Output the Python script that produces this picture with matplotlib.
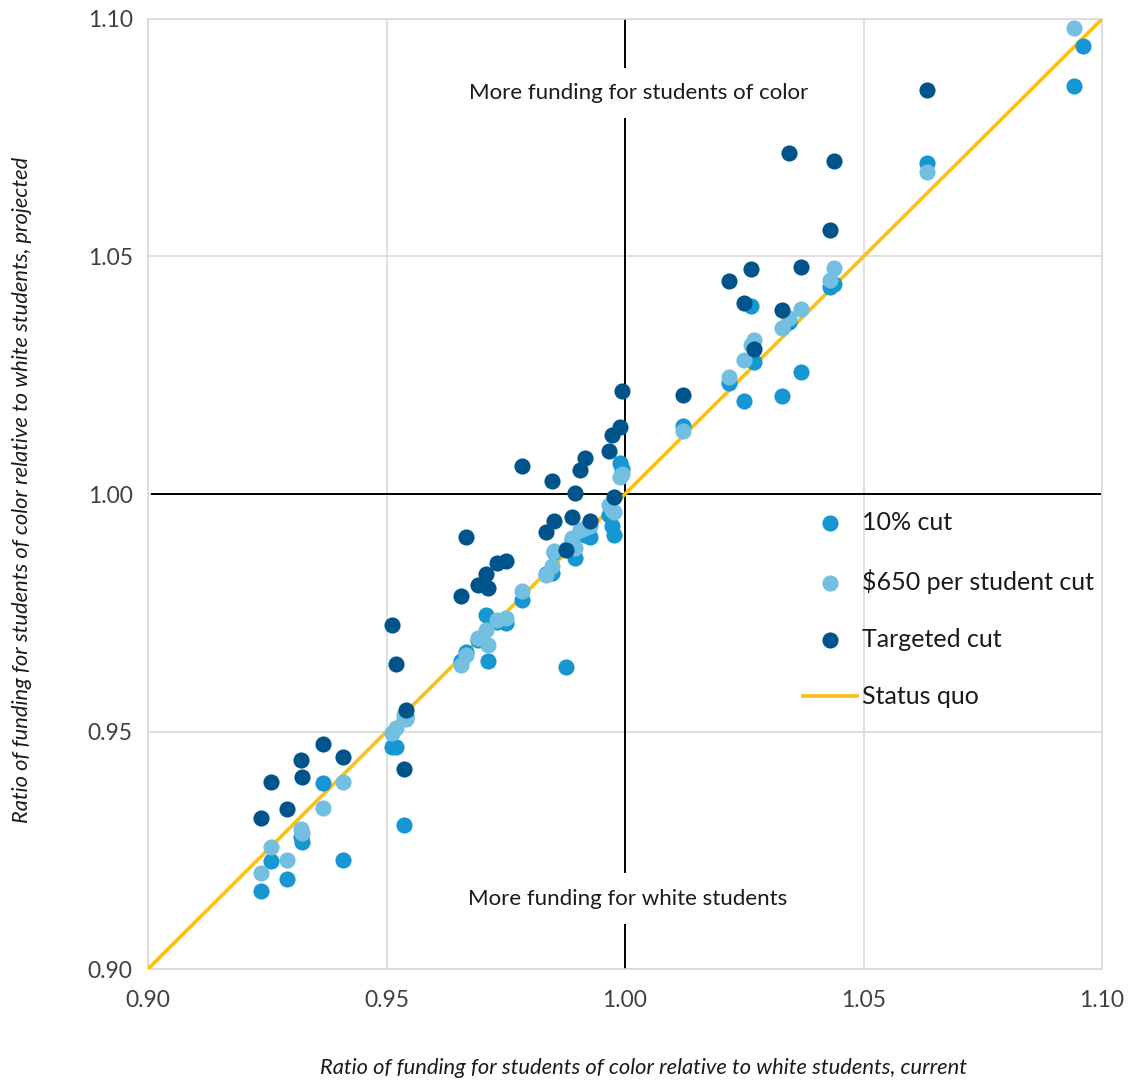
import numpy as np
import matplotlib
matplotlib.use('Agg')
import matplotlib.pyplot as plt

plt.rcParams['font.family'] = ['Lato', 'DejaVu Sans']

# current ratio (x) for each district, and projected ratio under each scenario
current = [0.9237, 0.9258, 0.9291, 0.9321, 0.9323, 0.9367, 0.9409,
           0.9512, 0.9520, 0.9537, 0.9541, 0.9656, 0.9667,
           0.9692, 0.9709, 0.9713, 0.9732, 0.9751, 0.9784,
           0.9834, 0.9847, 0.9851, 0.9876, 0.9889, 0.9895, 0.9906, 0.9916, 0.9927,
           0.9966, 0.9973, 0.9977, 0.9990, 0.9994, 1.0122,
           1.0218, 1.0249, 1.0264, 1.0270, 1.0329, 1.0344, 1.0369, 1.0430, 1.0438,
           1.0633, 1.0941, 1.0960]
cut_10 = [0.9164, 0.9227, 0.9189, 0.9278, 0.9267, 0.9392, 0.9229,
          0.9467, 0.9468, 0.9303, 0.9533, 0.9648, 0.9667,
          0.9693, 0.9745, 0.9648, 0.9731, 0.9728, 0.9777,
          0.9832, 0.9834, 0.9878, 0.9636, 0.9903, 0.9865, 0.9918, 0.9914, 0.9909,
          0.9956, 0.9933, 0.9914, 1.0065, 1.0053, 1.0143,
          1.0234, 1.0196, 1.0396, 1.0278, 1.0206, 1.0362, 1.0257, 1.0436, 1.0442,
          1.0697, 1.0859, 1.0943]
cut_650 = [0.9202, 0.9257, 0.9229, 0.9295, 0.9286, 0.9339, 0.9394,
           0.9497, 0.9507, 0.9535, 0.9526, 0.9640, 0.9661,
           0.9697, 0.9714, 0.9682, 0.9735, 0.9739, 0.9796,
           0.9829, 0.9848, 0.9880, 0.9884, 0.9907, 0.9886, 0.9924, 0.9928, 0.9933,
           0.9977, 0.9966, 0.9962, 1.0036, 1.0042, 1.0133,
           1.0246, 1.0282, 1.0314, 1.0324, 1.0349, 1.0371, 1.0389, 1.0451, 1.0476,
           1.0678, 1.0981, np.nan]
targeted = [0.9318, 0.9394, 0.9337, 0.9440, 0.9404, 0.9474, 0.9446,
            0.9724, 0.9642, 0.9421, 0.9545, 0.9785, 0.9909,
            0.9808, 0.9832, 0.9802, 0.9855, 0.9859, 1.0059,
            0.9920, 1.0027, 0.9943, 0.9882, 0.9952, 1.0002, 1.0051, 1.0076, 0.9943,
            1.0091, 1.0124, 0.9994, 1.0141, 1.0217, 1.0208,
            1.0448, 1.0402, 1.0474, 1.0305, 1.0387, 1.0718, 1.0478, 1.0556, 1.0701,
            1.0851, np.nan, np.nan]

ticks = [0.90, 0.95, 1.00, 1.05, 1.10]

fig = plt.figure(figsize=(11.36, 10.85), dpi=100)
ax = fig.add_axes([0.1303, 0.1069, 0.8398, 0.8756])

ax.set_xlim(0.90, 1.10)
ax.set_ylim(0.90, 1.10)
ax.set_xticks(ticks)
ax.set_yticks(ticks)
ax.set_xticklabels([f'{t:.2f}' for t in ticks])
ax.set_yticklabels([f'{t:.2f}' for t in ticks])
ax.tick_params(length=0, labelsize=16.5, labelcolor='#404040')
ax.tick_params(axis='x', pad=15)
ax.tick_params(axis='y', pad=11)
ax.grid(True, color='#d9d9d9', lw=1.2)
ax.set_axisbelow(True)
for s in ax.spines.values():
    s.set_color('#d9d9d9')
    s.set_linewidth(1.2)

# reference lines
ax.axhline(1.0, xmin=0.004, xmax=0.998, color='black', lw=1.4, zorder=2)
ax.axvline(1.0, color='black', lw=1.4, zorder=2)
ax.plot([0.90, 1.10], [0.90, 1.10], color='#fdbf11', lw=2.6, zorder=3,
        label='Status quo')

ms = 135
ax.scatter(current, cut_10, s=ms, color='#1696d2', lw=0, zorder=4, label='10% cut')
ax.scatter(current, cut_650, s=ms, color='#73bfe2', lw=0, zorder=5,
           label='$650 per student cut')
ax.scatter(current, targeted, s=ms, color='#00548c', lw=0, zorder=6,
           label='Targeted cut')

box = dict(facecolor='white', edgecolor='none', pad=11)
ax.text(1.0029, 1.0844, 'More funding for students of color', ha='center',
        va='center', fontsize=16, color='#1a1a1a', bbox=box, zorder=7)
ax.text(1.0005, 0.9148, 'More funding for white students', ha='center',
        va='center', fontsize=16, color='#1a1a1a', bbox=box, zorder=7)

h, l = ax.get_legend_handles_labels()
order = [1, 2, 3, 0]
leg = ax.legend([h[i] for i in order], [l[i] for i in order],
                loc='upper left', bbox_to_anchor=(803 / 1136, 1 - 511 / 1085),
                bbox_transform=fig.transFigure, frameon=False, fontsize=18,
                handlelength=2.15, handletextpad=0.2, labelspacing=1.38,
                borderpad=0, borderaxespad=0, markerscale=1.0)
for t in leg.get_texts():
    t.set_color('#1a1a1a')

fig.text(643 / 1136, 1 - 1068 / 1085,
         'Ratio of funding for students of color relative to white students, current',
         ha='center', va='center', fontsize=15.75, style='italic', color='#1a1a1a')
fig.text(22 / 1136, 1 - 490 / 1085,
         'Ratio of funding for students of color relative to white students, projected',
         ha='center', va='center', fontsize=15.75, style='italic', rotation=90,
         color='#1a1a1a')

fig.savefig('out.png', dpi=100)
